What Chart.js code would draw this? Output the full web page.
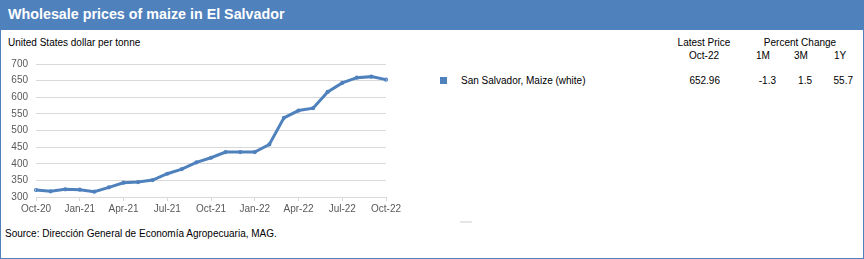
<!DOCTYPE html>
<html>
<head>
<meta charset="utf-8">
<script src="https://cdn.jsdelivr.net/npm/chart.js@4.4.0/dist/chart.umd.min.js"></script>
<style>
  html,body{margin:0;padding:0;background:#fff;}
  body{width:864px;height:259px;position:relative;overflow:hidden;font-family:"Liberation Sans",Arial,sans-serif;color:#000;}
  #frame{position:absolute;left:0;top:0;width:862px;height:257px;border:1px solid #4F81BD;}
  #titlebar{position:absolute;left:0;top:0;width:864px;height:30px;background:#4F81BD;}
  #title{position:absolute;left:8px;top:6px;font-size:14.3px;font-weight:bold;color:#fff;}
  .t{position:absolute;font-size:10px;white-space:nowrap;color:#000;}
  .c{transform:translateX(-50%);}
  .r{transform:translateX(-100%);}
  #wrap{position:absolute;left:0;top:50px;width:410px;height:175px;}
  #sq{position:absolute;left:440px;top:77px;width:7px;height:7px;background:#4F81BD;}
  #dash{position:absolute;left:460px;top:221px;width:12px;height:2px;background:#e6e6e6;}
</style>
</head>
<body>
<div id="frame"></div>
<div id="titlebar"></div>
<div id="title">Wholesale prices of maize in El Salvador</div>
<div class="t" style="left:8px;top:37px;">United States dollar per tonne</div>
<div id="wrap"><canvas id="chart" width="410" height="175"></canvas></div>
<div id="sq"></div>
<div class="t" id="seriesName" style="left:461px;top:75px;"></div>
<div class="t c" style="left:704px;top:37px;">Latest Price</div>
<div class="t c" style="left:704px;top:50px;" id="latestLabel"></div>
<div class="t c" style="left:800px;top:37px;">Percent Change</div>
<div class="t c" style="left:763px;top:50px;">1M</div>
<div class="t c" style="left:801px;top:50px;">3M</div>
<div class="t c" style="left:840px;top:50px;">1Y</div>
<div class="t r" style="left:720px;top:75px;" id="v0"></div>
<div class="t r" style="left:776px;top:75px;" id="v1"></div>
<div class="t r" style="left:812px;top:75px;" id="v2"></div>
<div class="t r" style="left:853px;top:75px;" id="v3"></div>
<div id="dash"></div>
<div class="t" style="left:5px;top:228px;">Source: Dirección General de Economía Agropecuaria, MAG.</div>
<script>
const months = ["Oct-20","Nov-20","Dec-20","Jan-21","Feb-21","Mar-21","Apr-21","May-21","Jun-21","Jul-21","Aug-21","Sep-21","Oct-21","Nov-21","Dec-21","Jan-22","Feb-22","Mar-22","Apr-22","May-22","Jun-22","Jul-22","Aug-22","Sep-22","Oct-22"];
const prices = [321,317,323,322,316,329,343,345,351,370,384,404,418,435,435,435,458,538,560,567,616,643,659,662,652.96];
const seriesName = "San Salvador, Maize (white)";
const latestLabel = "Oct-22";
const tableValues = ["652.96","-1.3","1.5","55.7"];
const yTicks = [300,350,400,450,500,550,600,650,700];

document.getElementById('seriesName').textContent = seriesName;
document.getElementById('latestLabel').textContent = latestLabel;
tableValues.forEach((v,i)=>document.getElementById('v'+i).textContent = v);

const FONT = "'Liberation Sans',Arial,sans-serif";
new Chart(document.getElementById('chart'), {
  type: 'line',
  data: {
    labels: months,
    datasets: [{
      data: prices,
      borderColor: '#4F81BD',
      backgroundColor: '#4F81BD',
      borderWidth: 3,
      pointRadius: 0.6,
      pointHoverRadius: 0,
      tension: 0
    }]
  },
  options: {
    responsive: false,
    animation: false,
    devicePixelRatio: 1,
    layout: { padding: { top: 12, right: 24, bottom: 0, left: 0 } },
    plugins: { legend: { display: false }, tooltip: { enabled: false } },
    scales: {
      x: {
        offset: false,
        afterFit: s => { s.height = 28; },
        border: { display: true, color: '#d9d9d9', width: 1 },
        grid: {
          drawOnChartArea: false,
          drawTicks: true,
          tickLength: 4,
          color: ctx => (ctx.index % 3 === 0 ? '#d9d9d9' : 'rgba(0,0,0,0)')
        },
        ticks: {
          autoSkip: false,
          maxRotation: 0,
          minRotation: 0,
          padding: 2,
          color: '#595959',
          font: { family: FONT, size: 10 },
          callback: (v, i) => (i % 3 === 0 ? months[i] : '')
        }
      },
      y: {
        min: 300, max: 700,
        afterFit: s => { s.width = 36; },
        afterBuildTicks: s => { s.ticks = yTicks.map(v => ({ value: v })); },
        border: { display: false },
        grid: { color: '#d9d9d9', lineWidth: 1, drawTicks: false },
        ticks: {
          padding: 8,
          color: '#595959',
          font: { family: FONT, size: 10 }
        }
      }
    }
  }
});
</script>
</body>
</html>
